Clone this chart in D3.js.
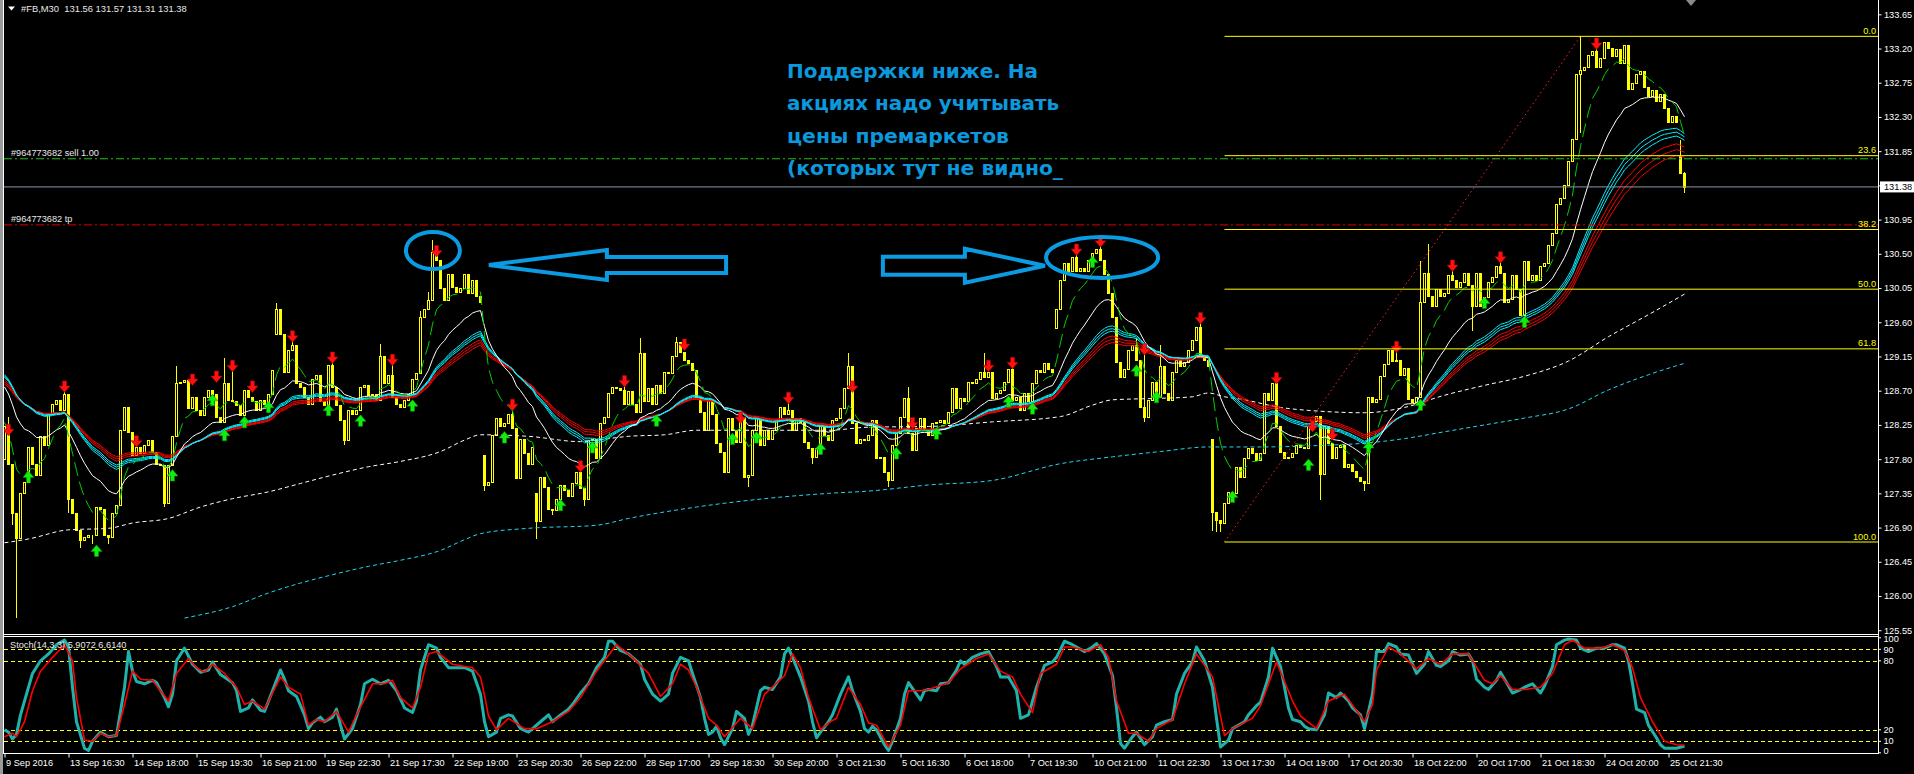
<!DOCTYPE html>
<html><head><meta charset="utf-8">
<script src="https://cdn.jsdelivr.net/npm/d3@7"></script>
<style>
html,body{margin:0;padding:0;background:#000;overflow:hidden;}
svg{display:block;}
</style></head><body>
<svg id="c" width="1914" height="774"></svg>
<script>
// ---------------- DATA ----------------
const closes = [
128.23,127.74,127.09,126.76,127.35,127.50,127.96,127.74,127.59,128.10,
127.99,128.40,128.53,128.58,128.45,128.66,127.28,127.09,126.87,126.73,
126.77,126.80,126.80,127.17,127.15,126.80,126.78,127.09,127.20,128.18,
128.49,128.16,127.85,127.96,127.88,127.99,128.05,127.90,127.74,127.72,
127.22,127.72,128.10,128.80,128.82,128.84,128.47,128.62,128.45,128.38,
128.62,128.71,128.66,128.36,128.29,128.80,128.58,128.56,128.51,128.38,
128.71,128.62,128.56,128.45,128.58,128.53,128.66,128.97,129.78,129.45,
128.95,129.24,129.30,128.80,128.75,128.62,128.53,128.86,128.91,128.56,
128.51,129.04,128.75,128.51,128.31,128.05,128.45,128.40,128.45,128.75,
128.77,128.64,128.66,128.58,129.15,128.80,128.91,128.62,128.53,128.49,
128.58,128.66,128.86,128.93,129.67,129.78,129.89,130.53,130.42,130.05,
129.89,130.24,130.07,130.00,130.05,130.24,129.98,130.16,129.95,129.87,
127.46,127.50,128.12,128.34,128.23,128.27,128.40,128.21,127.55,128.07,
127.88,127.74,127.96,126.98,127.57,127.44,127.15,127.13,127.28,127.46,
127.39,127.31,127.48,127.63,127.42,127.28,128.05,128.07,127.81,128.27,
128.36,128.67,128.75,128.73,128.71,128.53,128.69,128.53,128.42,129.19,
128.56,128.73,128.53,128.77,128.67,128.95,128.93,129.15,129.34,129.21,
129.10,129.06,128.97,128.62,128.42,128.18,128.58,128.40,128.01,127.90,
127.63,128.34,128.18,128.03,128.36,127.57,127.59,128.18,128.34,127.99,
128.18,128.07,128.18,128.31,128.49,128.40,128.45,128.18,128.34,128.29,
128.03,127.94,127.83,127.94,128.23,128.12,128.05,128.31,128.34,128.47,
128.73,129.02,128.27,128.01,128.07,128.05,128.12,128.31,127.81,127.83,
127.63,127.52,127.99,128.14,128.36,128.60,128.14,127.92,128.21,128.34,
128.18,128.12,128.27,128.29,128.31,128.27,128.42,128.73,128.47,128.60,
128.56,128.82,128.80,128.86,128.95,128.88,128.95,128.60,128.67,128.71,
128.82,128.99,128.58,128.62,128.45,128.67,128.56,128.80,128.97,128.95,
129.06,128.99,128.95,129.78,130.16,130.38,130.27,130.46,130.27,130.31,
130.27,130.42,130.51,130.57,130.42,130.24,129.98,129.67,129.08,128.88,
128.99,129.24,129.30,129.10,128.49,128.36,128.58,128.82,128.62,129.02,
128.67,128.58,128.95,129.10,129.02,129.08,129.24,129.37,129.54,129.17,
129.10,129.02,127.11,127.00,126.96,127.22,127.37,127.35,127.70,127.57,
127.81,127.94,127.88,127.79,127.88,128.67,128.58,128.80,128.23,127.90,
127.81,127.83,127.88,127.99,127.96,127.94,128.23,128.30,128.37,127.60,
128.23,128.01,127.82,127.96,127.98,127.69,127.73,127.64,127.57,127.51,
127.48,128.62,128.55,128.59,128.89,129.05,129.23,129.09,129.11,128.91,
129.00,128.59,128.55,128.62,129.86,130.25,129.95,129.82,130.04,129.95,
129.98,130.22,130.16,130.07,130.13,130.25,130.09,129.82,130.25,129.82,
129.93,130.13,130.20,130.34,130.25,129.86,129.90,130.22,130.04,129.70,
130.40,130.16,130.22,130.16,130.34,130.38,130.61,130.77,131.15,131.24,
131.40,131.72,132.01,132.87,132.92,132.96,133.12,133.17,132.96,133.08,
133.28,133.21,133.10,133.19,133.01,133.24,132.67,132.74,132.87,132.90,
132.69,132.58,132.65,132.51,132.60,132.42,132.24,132.31,132.24,131.56,
131.38];
// opens equal the previous close except at these gaps
const gapOpens = {0:127.80, 68:129.45, 120:127.85, 133:127.35, 263:129.52, 302:128.07, 419:131.79};
const wickHighs = {1:128.35,15:128.75,43:129.02,55:129.13,57:129.05,68:129.85,72:129.40,82:129.10,94:129.32,97:129.05,104:129.75,106:130.00,107:130.68,108:130.55,127:128.55,144:127.75,155:128.82,159:129.39,168:129.41,184:128.40,196:128.62,211:129.19,226:128.75,245:129.19,252:129.08,268:130.55,274:130.73,283:129.39,285:129.25,289:129.30,299:129.65,318:128.90,327:128.30,348:129.30,354:130.40,356:130.63,362:130.40,374:130.50,394:133.36,398:133.30,419:132.00,420:131.57};
const wickLows = {2:126.95,3:125.73,16:127.10,19:126.65,22:126.70,26:126.70,40:127.18,85:128.00,120:127.39,133:126.76,137:127.08,145:127.20,186:127.45,202:127.75,221:127.45,285:128.30,302:126.87,303:126.86,304:126.85,329:127.28,340:127.40,367:129.50,380:129.59,394:132.10,420:131.31};

const timeLabels = ["9 Sep 2016","13 Sep 16:30","14 Sep 18:00","15 Sep 19:30","16 Sep 21:00","19 Sep 22:30","21 Sep 17:30","22 Sep 19:00","23 Sep 20:30","26 Sep 22:00","28 Sep 17:00","29 Sep 18:30","30 Sep 20:00","3 Oct 21:30","5 Oct 16:30","6 Oct 18:00","7 Oct 19:30","10 Oct 21:00","11 Oct 22:30","13 Oct 17:30","14 Oct 19:00","17 Oct 20:30","18 Oct 22:00","20 Oct 17:00","21 Oct 18:30","24 Oct 20:00","25 Oct 21:30"];
const priceTicks = [133.65,133.20,132.75,132.30,131.85,131.40,130.95,130.50,130.05,129.60,129.15,128.70,128.25,127.80,127.35,126.90,126.45,126.00,125.55];

const redArrows = [[1,128.18],[15,128.75],[33,128.03],[47,128.84],[53,128.88],[57,129.02],[62,128.75],[72,129.41],[82,129.13],[97,129.10],[108,130.53],[127,128.51],[144,127.70],[155,128.82],[170,129.30],[184,128.34],[196,128.60],[212,128.75],[227,128.27],[246,129.02],[252,129.06],[268,130.55],[274,130.66],[285,129.24],[299,129.65],[318,128.86],[327,128.23],[332,128.12],[348,129.27],[362,130.34],[374,130.45],[398,133.26]];
const greenArrows = [[6,127.57],[23,126.60],[42,127.59],[52,128.58],[55,128.12],[60,128.29],[66,128.49],[81,128.45],[89,128.31],[102,128.51],[125,128.09],[139,127.20],[147,127.96],[163,128.31],[182,128.07],[188,128.09],[204,127.94],[223,127.88],[233,128.14],[251,128.56],[257,128.47],[272,130.40],[283,128.97],[288,128.62],[307,127.31],[326,127.73],[341,127.96],[354,128.52],[370,129.86],[380,129.61]];

const whiteDotted = [[0,126.70],[6,126.75],[16,126.87],[26,126.89],[32,126.96],[41,127.02],[49,127.17],[57,127.28],[66,127.37],[74,127.48],[82,127.59],[91,127.70],[99,127.77],[109,127.90],[115,128.05],[119,128.12],[131,128.10],[144,128.03],[148,128.05],[156,128.10],[165,128.12],[173,128.18],[190,128.18],[206,128.18],[216,128.22],[231,128.23],[247,128.29],[264,128.36],[272,128.51],[277,128.58],[289,128.60],[297,128.62],[301,128.67],[305,128.62],[309,128.59],[319,128.48],[329,128.43],[340,128.41],[350,128.48],[360,128.64],[370,128.77],[380,128.89],[391,129.09],[401,129.41],[411,129.70],[420,129.97]];
const cyanDotted = [[45,125.71],[57,125.86],[66,126.04],[74,126.17],[82,126.28],[91,126.39],[99,126.47],[109,126.60],[115,126.74],[119,126.82],[131,126.89],[148,126.93],[156,127.02],[173,127.17],[190,127.28],[206,127.35],[216,127.38],[231,127.46],[247,127.52],[264,127.74],[277,127.83],[289,127.90],[301,127.96],[314,127.96],[329,127.98],[340,128.01],[350,128.07],[360,128.16],[370,128.25],[380,128.34],[391,128.46],[401,128.71],[411,128.91],[420,129.06]];

const stochK = [[0,20],[1,18],[2,12],[3,16],[4,33],[6,57],[7,69],[9,80],[11,86],[13,94],[15,98],[16,92],[17,57],[18,27],[20,4],[21,2],[22,10],[24,18],[26,14],[28,15],[30,57],[31,88],[32,71],[33,62],[35,60],[37,63],[38,61],[40,48],[41,40],[42,51],[43,80],[45,91],[47,77],[49,70],[51,72],[52,79],[54,68],[57,61],[58,54],[59,36],[61,39],[62,46],[64,37],[65,36],[67,54],[69,72],[70,64],[71,54],[73,49],[75,33],[76,21],[77,26],[79,31],[80,27],[82,31],[83,38],[84,24],[85,12],[87,21],[89,42],[90,60],[92,64],[94,60],[96,63],[98,54],[100,39],[102,35],[103,45],[104,72],[106,94],[108,91],[109,83],[111,74],[113,74],[115,74],[117,71],[119,51],[120,27],[121,14],[123,18],[124,30],[126,33],[127,32],[129,21],[131,18],[132,21],[134,27],[136,33],[137,27],[139,33],[141,38],[142,42],[144,52],[146,60],[148,74],[150,83],[151,97],[152,97],[154,89],[156,86],[159,77],[160,64],[162,51],[164,45],[166,51],[167,69],
[169,83],[171,80],[172,69],[174,48],[175,30],[176,16],[177,18],[178,23],[179,13],[180,7],[182,21],[183,36],[185,30],[186,16],[187,24],[189,54],[190,57],[192,55],[194,66],[195,86],[196,91],[197,83],[199,66],[201,45],[202,27],[203,13],[204,18],[206,27],[207,33],[209,51],[211,66],[212,54],[214,36],[215,21],[216,18],[217,23],[218,20],[220,7],[221,2],[222,10],[224,30],[225,51],[226,61],[228,51],[229,46],[230,54],[231,55],[233,54],[234,60],[236,61],[238,72],[239,80],[240,77],[242,83],[244,86],[246,88],[248,75],[249,66],[251,66],[253,54],[254,30],[256,33],[258,57],[260,76],[262,79],[263,83],[265,97],[267,94],[268,92],[270,88],[272,92],[273,95],[275,86],[277,67],[278,39],[279,8],[280,4],[282,14],[283,18],[285,7],[287,14],[288,24],[290,27],[292,29],[293,51],[295,69],[297,79],[298,92],[300,80],[302,57],[303,30],[304,5],[306,11],[307,21],[310,27],[311,33],[313,41],[314,44],[316,66],[317,91],[319,75],[321,39],[322,29],
[324,27],[325,23],[326,21],[328,20],[330,33],[331,52],[333,48],[334,52],[336,45],[337,39],[339,33],[340,21],[342,51],[343,88],[345,88],[346,95],[348,92],[349,86],[351,85],[353,69],[355,77],[356,88],[358,76],[359,75],[361,80],[362,88],[364,85],[366,86],[367,80],[368,64],[370,57],[371,55],[373,63],[374,70],[376,58],[377,52],[379,55],[380,57],[382,60],[384,52],[385,58],[387,75],[388,94],[390,98],[391,99],[393,98],[394,91],[396,88],[398,91],[400,91],[402,94],[403,94],[405,91],[406,80],[407,60],[408,38],[410,35],[411,24],[413,13],[414,7],[415,4],[418,4],[420,5.9072]];
const stochD = [[0,14],[2,17],[3,14],[5,27],[7,54],[9,71],[12,83],[15,94],[17,80],[18,48],[20,11],[22,10],[24,17],[26,14],[28,15],[30,42],[32,71],[34,64],[37,63],[39,54],[41,45],[43,69],[46,82],[48,74],[50,70],[52,77],[55,69],[58,57],[60,42],[62,45],[65,38],[69,66],[71,57],[74,51],[76,24],[78,29],[80,27],[83,36],[86,18],[88,33],[92,60],[95,60],[97,63],[99,48],[102,39],[104,57],[106,86],[108,88],[112,77],[117,74],[119,66],[120,50],[121,32],[123,20],[126,30],[130,21],[133,21],[137,27],[141,36],[144,48],[148,71],[153,94],[157,83],[161,69],[164,49],[167,60],
[169,77],[171,72],[173,57],[176,30],[178,24],[180,14],[184,30],[187,21],[190,51],[191,54],[195,67],[197,86],[199,74],[201,48],[204,20],[206,26],[208,30],[211,57],[214,42],[216,26],[218,24],[221,5],[224,24],[226,54],[229,54],[231,55],[236,61],[239,73],[243,82],[246,86],[249,71],[252,66],[254,51],[257,35],[259,69],[263,77],[265,92],[267,92],[271,88],[274,94],[276,83],[278,45],[281,17],[283,17],[286,10],[288,21],[292,29],[295,60],[298,86],[302,66],[305,15],[307,21],[312,30],[314,41],[318,79],[322,45],
[324,32],[328,21],[331,45],[335,51],[340,27],[342,42],[343,72],[346,92],[349,86],[353,73],[356,82],[359,77],[362,86],[366,86],[370,63],[372,60],[374,67],[377,55],[380,55],[384,57],[387,69],[390,94],[392,98],[395,91],[399,91],[402,94],[405,89],[407,74],[409,48],[412,27],[415,10],[418,7],[420,6.614]];
const stochLevels = [90,80,20,10];
const stochAxisLabels = [100,90,80,20,10,0];

const fibLevels = [0.0,23.6,38.2,50.0,61.8,100.0];
const fibStartBar = 305, fibEndBar = 394, fibLow = 126.71, fibHigh = 133.36;
const sellPrice = 131.75, tpPrice = 130.88, bidPrice = 131.38;

// moving averages (computed from closes)
const greenMA = {period:8, seed:128.30};
const whiteMA = {period:21, seed:128.80};
const cyanMAs = [{period:36,seed:128.95},{period:38,seed:128.93},{period:40,seed:128.91}];
const redMAs  = [{period:44,seed:128.87},{period:47,seed:128.84},{period:50,seed:128.81}];

const noteLines = ["Поддержки ниже. На","акциях надо учитывать","цены премаркетов","(которых тут не видно_"];
const noteWidths = [251,272,222,276];

// annotations in chart coordinates: bar index / price
const ellipses = [{bar:107.1, price:130.544, rb:6.75, rp:0.243},{bar:274.4, price:130.452, rb:14, rp:0.27}];
const leftArrow = {tip:121.1, head:150.6, tail:180.4, price:130.353, headH:0.197, shaftH:0.105};
const rightArrow = {tail:219.6, head:240.1, tip:260.1, price:130.343, headH:0.224, shaftH:0.118};

// ---------------- DRAW ----------------
const svg = d3.select("#c");
const FONT = "'Liberation Sans', Arial, sans-serif";
const FS = 9.2;
const plotR = 1878;
const x = d3.scaleLinear().domain([0,420]).range([4.5,1684.5]);
const y = d3.scaleLinear().domain([126.00,133.65]).range([596,14.3]);
const ys = d3.scaleLinear().domain([0,100]).range([752.8,637.8]);

svg.append("rect").attr("width",1914).attr("height",774).attr("fill","#000");
const defs = svg.append("defs");
defs.append("clipPath").attr("id","mainClip").append("rect").attr("x",4).attr("y",0).attr("width",plotR-4).attr("height",634);
defs.append("clipPath").attr("id","stClip").append("rect").attr("x",4).attr("y",637).attr("width",plotR-4).attr("height",116);

const main = svg.append("g").attr("clip-path","url(#mainClip)");

// candles
const bars = closes.map((c,i)=>{
  const o = (gapOpens[i]!==undefined) ? gapOpens[i] : closes[i-1];
  const h = Math.max(o,c,wickHighs[i]!==undefined?wickHighs[i]:-Infinity);
  const l = Math.min(o,c,wickLows[i]!==undefined?wickLows[i]:Infinity);
  return {i,o,c,h,l};
});
const cg = main.append("g").attr("shape-rendering","crispEdges");
cg.selectAll("line.w").data(bars).join("line")
  .attr("x1",d=>x(d.i)).attr("x2",d=>x(d.i))
  .attr("y1",d=>y(d.h)).attr("y2",d=>y(d.l)+1)
  .attr("stroke","#ffff00").attr("stroke-width",1);
cg.selectAll("rect.b").data(bars).join("rect")
  .each(function(d){
    const top = Math.round(y(Math.max(d.o,d.c))), bot = Math.round(y(Math.min(d.o,d.c)));
    const s = d3.select(this);
    if (d.c >= d.o) {
      s.attr("x",x(d.i)-1).attr("width",2).attr("y",top+0.5).attr("height",Math.max(0,bot-top))
       .attr("fill","#000").attr("stroke","#ffff00").attr("stroke-width",1);
    } else {
      s.attr("x",x(d.i)-1.5).attr("width",3).attr("y",top).attr("height",Math.max(1,bot-top+1))
       .attr("fill","#ffff00");
    }
  });

// long dotted MAs
const lineXY = d3.line().x(d=>x(d[0])).y(d=>y(d[1])).curve(d3.curveMonotoneX);
main.append("path").attr("d",lineXY(whiteDotted)).attr("fill","none").attr("stroke","#ffffff").attr("stroke-width",1).attr("stroke-dasharray","4,3");
main.append("path").attr("d",lineXY(cyanDotted)).attr("fill","none").attr("stroke","#22d8f0").attr("stroke-width",1).attr("stroke-dasharray","4,3");

// EMAs
function ema(cfg){ const a=2/(cfg.period+1); let e=cfg.seed; return closes.map(c=>(e=e+a*(c-e))); }
const lineIdx = d3.line().x((d,i)=>x(i)).y(d=>y(d));
redMAs.forEach(m=>main.append("path").attr("d",lineIdx(ema(m))).attr("fill","none").attr("stroke","#ff0000").attr("stroke-width",1));
cyanMAs.forEach(m=>main.append("path").attr("d",lineIdx(ema(m))).attr("fill","none").attr("stroke","#00f0ff").attr("stroke-width",1));
main.append("path").attr("d",lineIdx(ema(whiteMA))).attr("fill","none").attr("stroke","#ffffff").attr("stroke-width",1);
main.append("path").attr("d",lineIdx(ema(greenMA))).attr("fill","none").attr("stroke","#00d000").attr("stroke-width",1).attr("stroke-dasharray","14,6");

// signal arrows
function downArrow(cx,cy){return `M${cx-2},${cy-6}h4v5h3.5l-5.5,6.5l-5.5,-6.5h3.5z`;}
function upArrow(cx,cy){return `M${cx-2},${cy+6}h4v-5h3.5l-5.5,-6.5l-5.5,6.5h3.5z`;}
main.selectAll("path.ra").data(redArrows).join("path").attr("d",d=>downArrow(x(d[0]),y(d[1]))).attr("fill","#ff1010").attr("stroke","#b00000").attr("stroke-width",0.5);
main.selectAll("path.ga").data(greenArrows).join("path").attr("d",d=>upArrow(x(d[0]),y(d[1]))).attr("fill","#10ee10").attr("stroke","#00a000").attr("stroke-width",0.5);

// order lines + bid
main.append("line").attr("x1",4).attr("x2",plotR).attr("y1",y(sellPrice)).attr("y2",y(sellPrice)).attr("stroke","#22c022").attr("stroke-dasharray","8,3,2,3");
main.append("line").attr("x1",4).attr("x2",plotR).attr("y1",y(tpPrice)).attr("y2",y(tpPrice)).attr("stroke","#e00000").attr("stroke-dasharray","8,3,2,3");
main.append("line").attr("x1",4).attr("x2",plotR).attr("y1",y(bidPrice)).attr("y2",y(bidPrice)).attr("stroke","#8899aa").attr("stroke-width",1);
svg.append("text").attr("x",11).attr("y",y(sellPrice)-2.5).attr("fill","#e8e8e8").attr("font-family",FONT).attr("font-size",FS).text("#964773682 sell 1.00");
svg.append("text").attr("x",11).attr("y",y(tpPrice)-2.5).attr("fill","#e8e8e8").attr("font-family",FONT).attr("font-size",FS).text("#964773682 tp");

// fibonacci
main.append("line").attr("x1",x(fibStartBar)).attr("y1",y(fibLow)).attr("x2",x(fibEndBar)).attr("y2",y(fibHigh))
  .attr("stroke","#ff2020").attr("stroke-dasharray","1.5,3");
fibLevels.forEach(lv=>{
  const p = fibHigh-(fibHigh-fibLow)*lv/100;
  main.append("line").attr("x1",x(fibStartBar)).attr("x2",plotR).attr("y1",y(p)).attr("y2",y(p)).attr("stroke","#ffff00").attr("stroke-width",1);
  svg.append("text").attr("x",plotR-2).attr("y",y(p)-2.5).attr("text-anchor","end").attr("fill","#ffff00")
    .attr("font-family",FONT).attr("font-size",FS).text(lv.toFixed(1));
});

// annotations
const blue = "#0a9be2";
ellipses.forEach(e=>{
  svg.append("ellipse").attr("cx",x(e.bar)).attr("cy",y(e.price))
    .attr("rx",x(e.bar+e.rb)-x(e.bar)).attr("ry",y(e.price-e.rp)-y(e.price))
    .attr("fill","none").attr("stroke",blue).attr("stroke-width",4);
});
function arrowPath(a){
  const cy=y(a.price), hh=y(a.price-a.headH)-cy, sh=y(a.price-a.shaftH)-cy;
  return `M${x(a.tip)},${cy} L${x(a.head)},${cy-hh} L${x(a.head)},${cy-sh} L${x(a.tail)},${cy-sh} L${x(a.tail)},${cy+sh} L${x(a.head)},${cy+sh} L${x(a.head)},${cy+hh} Z`;
}
svg.append("path").attr("d",arrowPath(leftArrow)).attr("fill","none").attr("stroke",blue).attr("stroke-width",4).attr("stroke-linejoin","miter");
svg.append("path").attr("d",arrowPath(rightArrow)).attr("fill","none").attr("stroke",blue).attr("stroke-width",4).attr("stroke-linejoin","miter");
noteLines.forEach((t,k)=>{
  svg.append("text").attr("x",787).attr("y",77.5+k*32.5).attr("fill","#0c98dc")
    .attr("font-family","'DejaVu Sans', Verdana, sans-serif").attr("font-weight","bold").attr("font-size",19.5)
    .attr("textLength",noteWidths[k]).attr("lengthAdjust","spacingAndGlyphs").text(t);
});

// ---------------- STOCH PANEL ----------------
const st = svg.append("g").attr("clip-path","url(#stClip)");
stochLevels.forEach(v=>{
  st.append("line").attr("x1",4).attr("x2",plotR).attr("y1",Math.round(ys(v))+0.5).attr("y2",Math.round(ys(v))+0.5)
    .attr("stroke","#ffff00").attr("stroke-dasharray","4,3");
});
const sLine = d3.line().x(d=>x(d[0])).y(d=>ys(d[1]));
st.append("path").attr("d",sLine(stochK)).attr("fill","none").attr("stroke","#20b2aa").attr("stroke-width",3).attr("stroke-linejoin","round");
st.append("path").attr("d",sLine(stochD)).attr("fill","none").attr("stroke","#ff0000").attr("stroke-width",1.6).attr("stroke-linejoin","round");
svg.append("text").attr("x",10).attr("y",648).attr("fill","#e8e8e8").attr("font-family",FONT).attr("font-size",FS).text("Stoch(14,3,3) 5.9072 6.6140");

// ---------------- FRAME & AXES ----------------
svg.append("rect").attr("x",0).attr("y",0).attr("width",3).attr("height",774).attr("fill","#9a9a9a");
svg.append("line").attr("x1",3.5).attr("x2",3.5).attr("y1",0).attr("y2",754).attr("stroke","#ffffff");
svg.append("line").attr("x1",plotR+0.5).attr("x2",plotR+0.5).attr("y1",0).attr("y2",754).attr("stroke","#ffffff");
[634.5,636.5,753.5].forEach(yy=>svg.append("line").attr("x1",3).attr("x2",plotR+1).attr("y1",yy).attr("y2",yy).attr("stroke","#ffffff"));

const yAxis = svg.append("g").attr("transform",`translate(${plotR+0.5},0)`)
  .call(d3.axisRight(y).tickValues(priceTicks).tickSize(3).tickFormat(d3.format(".2f")));
yAxis.select(".domain").remove();
yAxis.selectAll("line").attr("stroke","#ffffff");
yAxis.selectAll("text").attr("fill","#ffffff").attr("font-family",FONT).attr("font-size",FS).attr("x",5.5);

// bid label
svg.append("rect").attr("x",1880).attr("y",y(bidPrice)-5.5).attr("width",34).attr("height",11).attr("fill","#ffffff");
svg.append("text").attr("x",1884).attr("y",y(bidPrice)+3.3).attr("fill","#000").attr("font-family",FONT).attr("font-size",FS).text(bidPrice.toFixed(2));

// stoch axis (baselines kept apart so labels do not collide)
const stochLabelBase = {100:642.3, 90:652.5, 80:663.6, 20:732.6, 10:744.2, 0:754.4};
const sAx = svg.append("g");
stochAxisLabels.forEach(v=>{
  sAx.append("line").attr("x1",plotR).attr("x2",plotR+3).attr("y1",ys(v)).attr("y2",ys(v)).attr("stroke","#fff");
  sAx.append("text").attr("x",1883.5).attr("y",stochLabelBase[v]).attr("fill","#ffffff").attr("font-family",FONT).attr("font-size",FS).text(v);
});

// time axis
const xAxis = svg.append("g").attr("transform","translate(0,753.5)")
  .call(d3.axisBottom(x).tickValues(d3.range(0,417,16)).tickSize(4).tickFormat((d,i)=>timeLabels[i]));
xAxis.select(".domain").remove();
xAxis.selectAll("line").attr("stroke","#ffffff");
xAxis.selectAll("text").attr("fill","#ffffff").attr("font-family",FONT).attr("font-size",FS).attr("text-anchor","start").attr("x",1).attr("y",6);

// header
svg.append("path").attr("d","M8,6.5h7l-3.5,4z").attr("fill","#ffffff");
svg.append("text").attr("x",21).attr("y",11.5).attr("fill","#e8e8e8").attr("font-family",FONT).attr("font-size",9.4)
  .attr("xml:space","preserve").text("#FB,M30  131.56 131.57 131.31 131.38");
// chart shift marker
svg.append("path").attr("d","M1686,0h10l-5,6z").attr("fill","#8a8a8a");
</script>
</body></html>
